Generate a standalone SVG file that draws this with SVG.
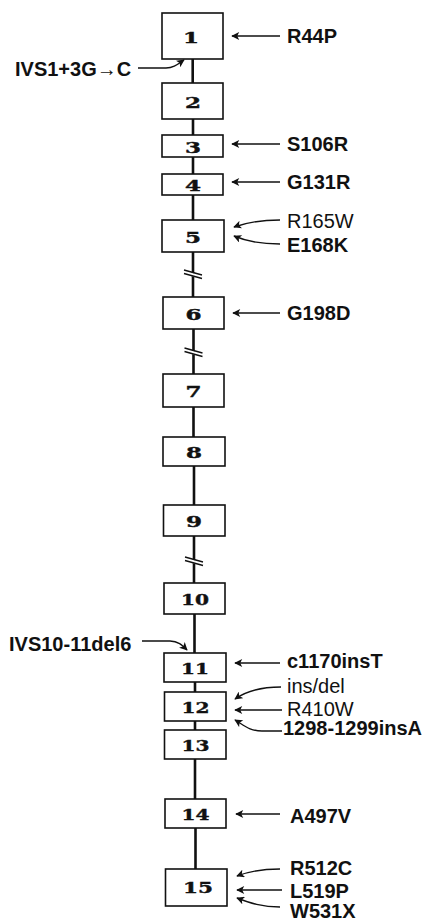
<svg xmlns="http://www.w3.org/2000/svg" width="427" height="922" viewBox="0 0 427 922">
<style>
.box{fill:#fff;stroke:#111;stroke-width:1.6}
.num{font-family:"DejaVu Serif",serif;font-weight:bold;font-size:14.5px;fill:#111;text-anchor:middle;stroke:#111;stroke-width:0.4}
.lbl{font-family:"Liberation Sans",Arial,sans-serif;font-size:20px;fill:#111}
.b{font-weight:bold}
.spine{stroke:#111;stroke-width:2.6;fill:none}
.arr{stroke:#111;stroke-width:1.4;fill:none;marker-end:url(#ah)}
</style>
<defs>
<marker id="ah" viewBox="0 0 10 10" refX="9" refY="5" markerWidth="9" markerHeight="8" markerUnits="userSpaceOnUse" orient="auto">
<path d="M0,0 L10,5 L0,10 L2.5,5 Z" fill="#111"/>
</marker>
<g id="brk">
<path d="M-9,-3.5 L9,1.5 L9,5 L-9,0 Z" fill="#fff"/>
<path d="M-9,-4 L9,1 M-9,-0.5 L9,4.5" stroke="#111" stroke-width="1.3"/>
</g>
</defs>
<g id="connectors">
<path class="spine" d="M192.7,59 V83 M193,119 V135 M193,157 V174 M193,195 V220 M193,252 V297 M193.5,329 V374 M193.5,407 V437 M194,466 V505 M194,536 V583 M194.5,614 V653 M195,682 V692 M195,721 V730 M195,759 V799 M195.5,828 V869"/>
<use href="#brk" x="193" y="274"/>
<use href="#brk" x="193.5" y="352"/>
<use href="#brk" x="194" y="561"/>
<path class="arr" d="M280,36 L232,36"/>
<path class="arr" d="M138,68 L166,68 C174,68 178,64 184,60"/>
<path class="arr" d="M280,144 L232,144"/>
<path class="arr" d="M280,182 L232,182"/>
<path class="arr" d="M280,220 C262,220 248,222 234,227"/>
<path class="arr" d="M280,244 C262,244 248,242 234,236"/>
<path class="arr" d="M280,313 L233,313"/>
<path class="arr" d="M142,641 L170,641 C178,641 182,645 187,650"/>
<path class="arr" d="M280,663 L235,663"/>
<path class="arr" d="M281,687 C262,687 248,690 235,699"/>
<path class="arr" d="M282,710 L235,710"/>
<path class="arr" d="M282,731 L262,731 C250,731 245,726 235,720"/>
<path class="arr" d="M280,814 L236,814"/>
<path class="arr" d="M280,869 C262,869 250,871 237,876"/>
<path class="arr" d="M282,890 L237,890"/>
<path class="arr" d="M280,907 C262,907 250,903 237,898"/>
</g>
<g id="n1"><rect class="box" x="162" y="13" width="61" height="46"/><text class="num" x="191" y="43" textLength="16" lengthAdjust="spacingAndGlyphs">1</text></g>
<g id="n2"><rect class="box" x="162" y="83" width="61" height="36"/><text class="num" x="193" y="107.5" textLength="16" lengthAdjust="spacingAndGlyphs">2</text></g>
<g id="n3"><rect class="box" x="162" y="135" width="61" height="22"/><text class="num" x="193" y="152.5" textLength="16" lengthAdjust="spacingAndGlyphs">3</text></g>
<g id="n4"><rect class="box" x="162" y="174" width="61" height="21"/><text class="num" x="193" y="191" textLength="16" lengthAdjust="spacingAndGlyphs">4</text></g>
<g id="n5"><rect class="box" x="162" y="220" width="62" height="32"/><text class="num" x="193" y="242.5" textLength="16" lengthAdjust="spacingAndGlyphs">5</text></g>
<g id="n6"><rect class="box" x="163" y="297" width="61" height="32"/><text class="num" x="193.5" y="319.5" textLength="16" lengthAdjust="spacingAndGlyphs">6</text></g>
<g id="n7"><rect class="box" x="163" y="374" width="61" height="33"/><text class="num" x="193.5" y="397" textLength="16" lengthAdjust="spacingAndGlyphs">7</text></g>
<g id="n8"><rect class="box" x="163" y="437" width="62" height="29"/><text class="num" x="194" y="458" textLength="16" lengthAdjust="spacingAndGlyphs">8</text></g>
<g id="n9"><rect class="box" x="163.5" y="505" width="61.5" height="31"/><text class="num" x="194" y="527" textLength="16" lengthAdjust="spacingAndGlyphs">9</text></g>
<g id="n10"><rect class="box" x="164" y="583" width="61" height="31"/><text class="num" x="195" y="605" textLength="28" lengthAdjust="spacingAndGlyphs">10</text></g>
<g id="n11"><rect class="box" x="164" y="653" width="62" height="29"/><text class="num" x="195" y="674" textLength="28" lengthAdjust="spacingAndGlyphs">11</text></g>
<g id="n12"><rect class="box" x="164.5" y="692" width="61.5" height="29"/><text class="num" x="195.5" y="713" textLength="28" lengthAdjust="spacingAndGlyphs">12</text></g>
<g id="n13"><rect class="box" x="164.5" y="730" width="61.5" height="29"/><text class="num" x="195.5" y="751" textLength="28" lengthAdjust="spacingAndGlyphs">13</text></g>
<g id="n14"><rect class="box" x="165" y="799" width="61" height="29"/><text class="num" x="195.5" y="820" textLength="28" lengthAdjust="spacingAndGlyphs">14</text></g>
<g id="n15"><rect class="box" x="165.5" y="869" width="61.5" height="37"/><text class="num" x="198" y="893" textLength="30" lengthAdjust="spacingAndGlyphs">15</text></g>
<g id="labels">
<text class="lbl b" x="287" y="43">R44P</text>
<text class="lbl b" x="15" y="76">IVS1+3G→C</text>
<text class="lbl b" x="287" y="151">S106R</text>
<text class="lbl b" x="287" y="189">G131R</text>
<text class="lbl" x="287" y="228">R165W</text>
<text class="lbl b" x="287" y="252">E168K</text>
<text class="lbl b" x="287" y="320">G198D</text>
<text class="lbl b" x="9" y="651">IVS10-11del6</text>
<text class="lbl b" x="287" y="668">c1170insT</text>
<text class="lbl" x="287" y="693">ins/del</text>
<text class="lbl" x="287" y="716">R410W</text>
<text class="lbl b" x="283" y="735">1298-1299insA</text>
<text class="lbl b" x="290" y="823">A497V</text>
<text class="lbl b" x="290" y="875">R512C</text>
<text class="lbl b" x="290" y="898">L519P</text>
<text class="lbl b" x="290" y="918">W531X</text>
</g>
</svg>
